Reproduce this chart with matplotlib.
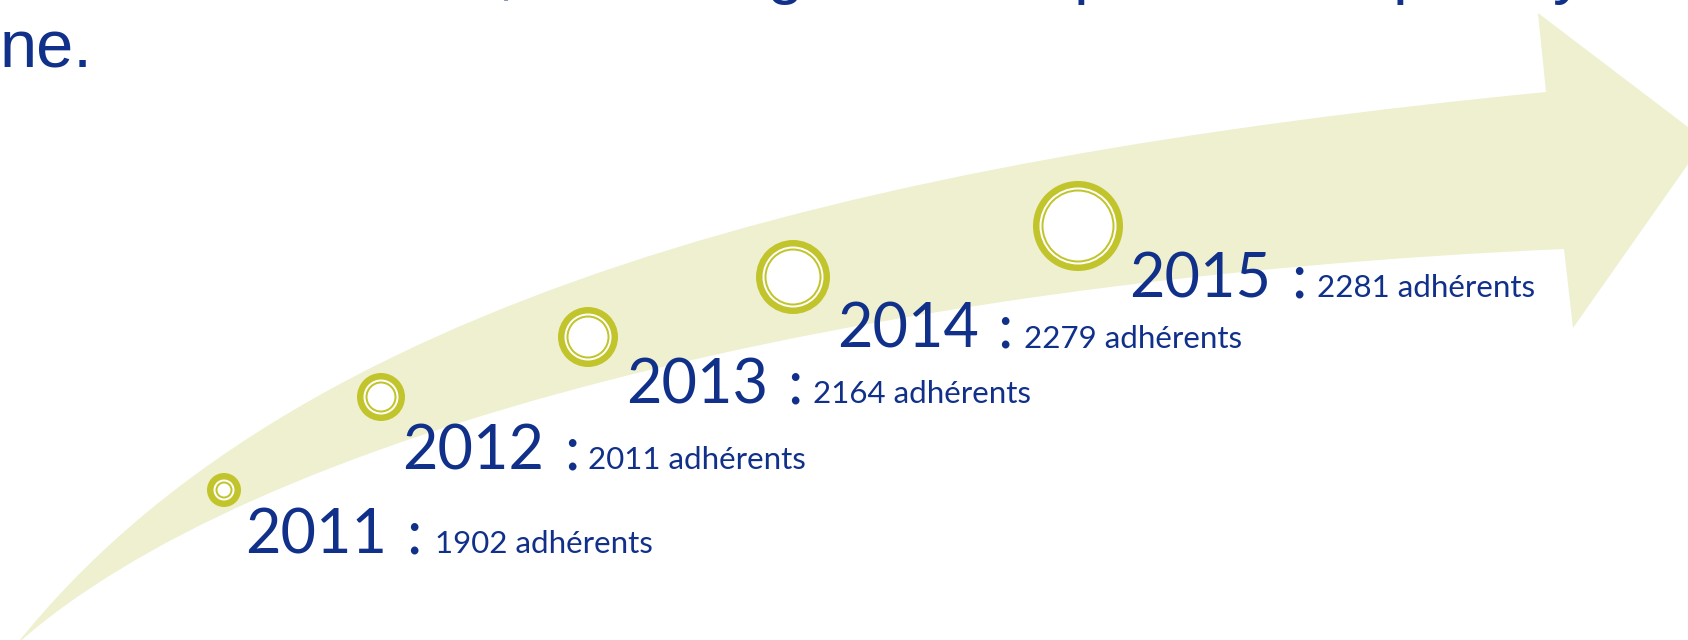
import matplotlib.pyplot as plt
from matplotlib.path import Path
from matplotlib.patches import PathPatch, Circle

# data
years = [2011, 2012, 2013, 2014, 2015]
members = [1902, 2011, 2164, 2279, 2281]
unit = "adhérents"

# layout (pixels, y down)
circle_x = [224, 381, 588, 793, 1078]
circle_y = [490, 397, 337, 277, 226]
circle_r = [17, 24, 30, 37, 45]
year_x = [245, 402, 626, 837, 1129]
colon_x = [406, 564, 787, 997, 1291]
count_x = [435, 588, 813, 1024, 1317]
base_y = [553, 469, 403, 348, 297]

navy = "#10308a"
olive = "#c2c42c"
pale = "#eef0d0"

fig = plt.figure(figsize=(16.88, 6.4), dpi=100)
ax = fig.add_axes([0, 0, 1, 1])
ax.set_xlim(0, 1688)
ax.set_ylim(640, 0)
ax.axis("off")

# big curved arrow
verts = [(16, 645), (290, 300), (850, 160), (1546, 92),
         (1538, 13), (1705, 140), (1573, 328), (1564, 249),
         (850, 280), (250, 435), (16, 645), (16, 645)]
codes = [Path.MOVETO, Path.CURVE4, Path.CURVE4, Path.CURVE4,
         Path.LINETO, Path.LINETO, Path.LINETO, Path.LINETO,
         Path.CURVE4, Path.CURVE4, Path.CURVE4, Path.CLOSEPOLY]
ax.add_patch(PathPatch(Path(verts, codes), facecolor=pale, edgecolor="none"))

# rings
for cx, cy, r in zip(circle_x, circle_y, circle_r):
    for d, col in [(0, olive), (6.5, "white"), (8.5, olive), (10.5, "white")]:
        ax.add_patch(Circle((cx, cy), r - d, facecolor=col, edgecolor="none"))

font = "Lato"
for i in range(len(years)):
    ax.text(year_x[i], base_y[i], str(years[i]), fontsize=44, color=navy,
            family=font, va="baseline", ha="left")
    ax.text(colon_x[i], base_y[i], ":", fontsize=44, color=navy,
            family=font, va="baseline", ha="left")
    ax.text(count_x[i], base_y[i], f"{members[i]} {unit}", fontsize=22.5,
            color=navy, family=font, va="baseline", ha="left")

# slide text cut by the top edge
ax.text(0, 68, "ne.", fontsize=48, color=navy, family="Liberation Sans",
        va="baseline", ha="left")
for ch, x in zip([",", "g", "p", "p", "y"], [497, 766, 1074, 1393, 1553]):
    ax.text(x, -9, ch, fontsize=48, color=navy, family="Liberation Sans",
            va="baseline", ha="left")

fig.savefig("out.png", dpi=100)
